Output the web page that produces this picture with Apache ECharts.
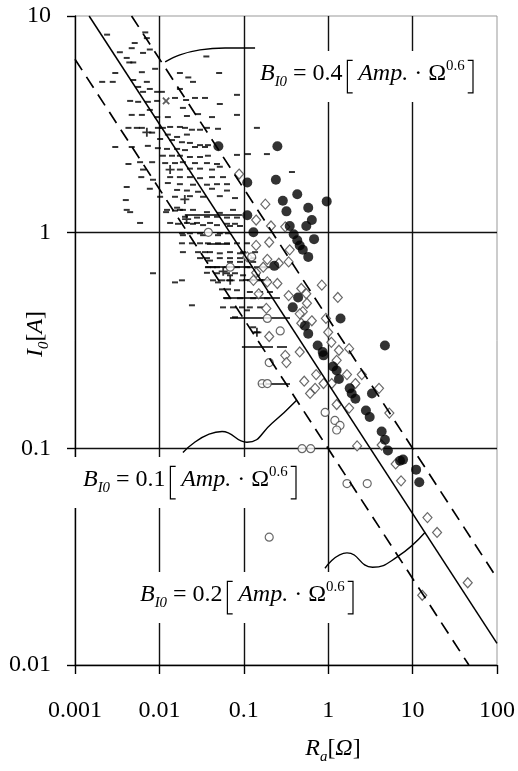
<!DOCTYPE html>
<html><head><meta charset="utf-8">
<script src="https://cdn.jsdelivr.net/npm/echarts@6/dist/echarts.min.js"></script>
<style>html,body{margin:0;padding:0;background:#fff}#c{width:518px;height:771px}</style>
</head><body><div id="c"></div>
<script>
// ---------- axes ----------
const xTickValues = [0.001, 0.01, 0.1, 1, 10, 100];
const xTickLabels = ['0.001', '0.01', '0.1', '1', '10', '100'];
const yTickValues = [0.01, 0.1, 1, 10];
const yTickLabels = ['0.01', '0.1', '1', '10'];

// ---------- reference lines I0 = B * Ra^-0.6 (end points) ----------
const lineB01 = [[0.001, 6.31], [46.4, 0.01]];
const lineB02 = [[0.00147, 10], [100, 0.0126]];
const lineB04 = [[0.00468, 10], [100, 0.0252]];

// ---------- data ----------
const filledCircles = [
 [0.05,2.5],[0.25,2.5],[0.11,1.7],[0.24,1.75],[0.29,1.4],[0.43,1.5],[0.96,1.39],[0.32,1.25],[0.58,1.3],
 [0.64,1.14],[0.11,1.2],[0.35,1.07],[0.55,1.07],[0.13,1.0],[0.39,0.98],[0.43,0.92],[0.68,0.93],[0.46,0.87],
 [0.50,0.83],[0.58,0.77],[0.23,0.70],[0.44,0.50],[0.38,0.45],[0.53,0.37],[0.58,0.34],[1.4,0.40],[4.7,0.30],
 [0.75,0.30],[0.86,0.28],[0.88,0.27],[1.14,0.24],[1.26,0.23],[1.34,0.21],[1.8,0.19],[1.9,0.18],[2.1,0.17],
 [3.3,0.18],[2.8,0.15],[3.1,0.14],[4.3,0.12],[4.7,0.11],[5.1,0.098],[7.1,0.088],[7.7,0.089],[11,0.080],[12,0.070]
];
const openDiamonds = [
 [0.088,1.86],[0.18,1.35],[0.14,1.14],[0.21,1.07],[0.31,1.06],[0.20,0.90],[0.35,0.83],[0.19,0.75],[0.34,0.73],
 [0.26,0.72],[0.14,0.65],[0.25,0.58],[0.48,0.55],[0.84,0.57],[0.34,0.51],[0.55,0.52],[1.3,0.50],[0.15,0.52],
 [0.56,0.47],[0.50,0.43],[0.64,0.39],[0.48,0.38],[0.94,0.40],[1.0,0.345],[1.09,0.31],[0.46,0.28],[1.34,0.285],
 [1.77,0.29],[0.31,0.27],[1.26,0.256],[0.32,0.25],[2.5,0.22],[1.67,0.22],[0.72,0.22],[0.52,0.205],[2.1,0.20],
 [4.0,0.19],[0.70,0.19],[0.61,0.18],[1.77,0.154],[5.3,0.146],[1.26,0.16],[2.2,0.103],[4.3,0.104],
 [6.3,0.085],[7.3,0.071],[15,0.048],[19.5,0.041],[45,0.024],[13,0.021],[0.46,0.42],[0.20,0.33],[0.88,0.2],
 [1.1,0.2],[0.13,0.60],[0.19,0.59],[0.185,0.445],[0.14,0.87],[0.11,0.77],[0.17,0.69]
];
const openCircles = [
 [0.038,1.0],[0.069,0.69],[0.19,0.40],[0.20,0.25],[0.165,0.2],[0.19,0.2],[0.27,0.35],[0.92,0.147],
 [0.49,0.1],[0.62,0.1],[1.67,0.069],[2.9,0.069],[0.20,0.039],[0.124,0.77],[1.2,0.135],[1.38,0.128],[1.26,0.122]
];
const smallDashes = [
 [0.0068,8.4],[0.0024,8.2],[0.0071,7.9],[0.0051,7.5],[0.0047,7.1],[0.0077,7.0],[0.0034,6.8],[0.0064,6.75],[0.036,6.5],
 [0.0041,6.4],[0.0044,6.1],[0.0049,6.1],[0.0089,5.7],[0.0062,5.5],[0.003,5.45],[0.0175,5.45],[0.051,5.45],[0.022,5.2],
 [0.0049,5.06],[0.0021,4.96],[0.0028,4.96],[0.0071,4.96],[0.025,4.96],[0.0056,4.7],[0.0077,4.6],[0.0175,4.6],
 [0.0064,4.46],[0.0094,4.46],[0.0107,4.46],[0.083,4.32],[0.0153,4.18],[0.0264,4.18],[0.0347,4.18],[0.0207,4.09],
 [0.0045,4.05],[0.0094,4.05],[0.0056,4.01],[0.0073,4.01],[0.052,3.92],[0.019,3.76],[0.0077,3.68],[0.0287,3.52],
 [0.0047,3.49],[0.0062,3.49],[0.083,3.49],[0.0212,3.45],[0.0094,3.41],[0.0126,3.41],[0.042,3.41],
 [0.0134,3.07],[0.0175,3.07],[0.0043,3.04],[0.0054,3.04],[0.0062,3.04],[0.0096,3.04],[0.011,3.04],[0.0201,3.04],
 [0.0366,3.04],[0.143,3.04],[0.0495,3.01],[0.0243,2.98],[0.0303,2.98],[0.0082,2.89],[0.0126,2.83],[0.0212,2.83],
 [0.0162,2.76],[0.0102,2.70],[0.0141,2.67],[0.0185,2.61],[0.023,2.59],[0.0303,2.53],[0.0376,2.53],[0.0073,2.51],
 [0.003,2.48],[0.0047,2.48],[0.0264,2.48],[0.0347,2.48],[0.0096,2.45],[0.0123,2.43],[0.0162,2.43],[0.0201,2.40],
 [0.112,2.30],[0.188,2.30],[0.083,2.28],[0.011,2.26],[0.0141,2.26],[0.0175,2.26],[0.0376,2.26],[0.023,2.23],
 [0.0303,2.23],[0.0059,2.11],[0.0082,2.11],[0.019,2.11],[0.0117,2.09],[0.0153,2.09],[0.0264,2.09],[0.0366,2.09],
 [0.0043,2.07],[0.0481,2.07],[0.052,2.01],[0.023,1.97],[0.0303,1.97],[0.0064,1.95],[0.0175,1.95],
 [0.042,1.95],[0.372,1.90],[0.0061,1.80],[0.0134,1.80],[0.0175,1.80],[0.023,1.80],[0.042,1.80],[0.0567,1.80],
 [0.0303,1.78],[0.0084,1.75],[0.0126,1.69],[0.0175,1.67],[0.0481,1.67],[0.0632,1.67],[0.025,1.66],[0.0366,1.66],
 [0.0041,1.62],[0.0077,1.59],[0.042,1.59],[0.0162,1.57],[0.0212,1.56],[0.0632,1.56],[0.0287,1.54],[0.023,1.47],
 [0.052,1.47],[0.0102,1.46],[0.0153,1.46],[0.0329,1.46],[0.0787,1.44],[0.004,1.41],
 [0.0162,1.30],[0.0041,1.27],[0.0123,1.27],[0.0175,1.27],[0.019,1.27],[0.025,1.27],[0.0745,1.27],[0.0153,1.26],
 [0.0045,1.24],[0.012,1.24],[0.0366,1.24],[0.052,1.23],[0.0201,1.18],[0.0366,1.18],[0.0481,1.18],[0.0279,1.17],
 [0.0632,1.17],[0.083,1.17],[0.0059,1.105],[0.0134,1.105],[0.0212,1.105],[0.0279,1.105],[0.0398,1.105],
 [0.0166,1.095],[0.025,1.095],[0.0632,1.095],[0.0787,1.095],[0.0329,1.08],[0.0481,1.08],[0.0686,1.07],[0.0901,1.07],
 [0.0185,0.99],[0.023,0.99],[0.0303,0.99],[0.052,0.99],[0.065,0.99],[0.019,0.97],[0.0329,0.97],[0.0495,0.97],
 [0.0185,0.89],[0.0243,0.89],[0.0303,0.89],[0.0376,0.89],[0.0495,0.89],[0.0632,0.89],[0.083,0.89],[0.109,0.89],
 [0.019,0.81],[0.0287,0.81],[0.0347,0.81],[0.0398,0.81],[0.0686,0.81],[0.098,0.81],[0.136,0.81],[0.052,0.80],
 [0.0901,0.80],[0.0303,0.76],[0.0366,0.76],[0.052,0.76],[0.0686,0.76],[0.0901,0.76],[0.129,0.76],[0.0398,0.74],
 [0.0686,0.73],[0.0901,0.73],[0.129,0.73],[0.0376,0.69],[0.0432,0.69],[0.0481,0.69],[0.0632,0.69],[0.083,0.69],
 [0.109,0.69],[0.118,0.69],[0.143,0.69],[0.169,0.69],[0.188,0.69],[0.0366,0.65],[0.0084,0.647],[0.0481,0.647],
 [0.0632,0.647],[0.0787,0.647],[0.0686,0.633],[0.098,0.633],[0.143,0.633],[0.0185,0.60],[0.0432,0.60],
 [0.0552,0.60],[0.0686,0.60],[0.0952,0.60],[0.118,0.60],[0.156,0.60],[0.193,0.60],[0.0153,0.587],[0.0495,0.587],
 [0.0552,0.545],[0.065,0.545],[0.083,0.54],[0.118,0.53],[0.156,0.53],[0.204,0.53],[0.0632,0.496],[0.0901,0.496],
 [0.129,0.496],[0.188,0.496],[0.0243,0.46],[0.0567,0.45],[0.0745,0.45],[0.0952,0.45],[0.118,0.45],[0.156,0.45],
 [0.109,0.436],[0.0787,0.405],[0.129,0.364],[0.143,0.345]
];
// horizontal bars: [x from, x to, y]
const hBars = [
 [0.0686,0.353,0.405],[0.0567,0.268,0.50],[0.098,0.204,0.606],[0.095,0.222,0.297],[0.247,0.325,0.297],
 [0.148,0.353,0.20],[0.02,0.095,1.21],[0.0366,0.0686,0.89],[0.035,0.118,0.69]
];
const plusMarks = [[0.0071,2.9],[0.0134,1.95],[0.02,1.42],[0.057,0.66],[0.069,0.60],[0.143,0.345],[0.021,1.15]];
const crossMarks = [[0.012,4.05]];

// annotation leader curves (data coordinates)
const leader04 = [[0.0117,6.13],[0.0175,6.61],[0.0303,6.97],[0.0599,7.11],[0.136,7.11]];
const leader01 = [[0.019,0.096],[0.0552,0.12],[0.109,0.107],[0.216,0.131],[0.42,0.167]];
const leader02 = [[0.916,0.028],[1.67,0.033],[3.35,0.0283],[6.5,0.0315],[14.0,0.041]];

// ---------- text helpers ----------
const SERIF = '"Liberation Serif","Times New Roman",serif';
const mctx = document.createElement('canvas').getContext('2d');
function fnt(size, it) { return (it ? 'italic ' : '') + size + 'px ' + SERIF; }
function tw(t, size, it) { mctx.font = fnt(size, it); return mctx.measureText(t).width; }

function layout(parts, F) {
  let x = 0; const items = [];
  for (const p of parts) {
    if (p.br) {
      x += (p.pre || 0) * F;
      items.push({ kind: 'br', x, ch: p.br });
      x += (p.post || 0) * F;
    } else {
      const size = F * (p.s || 1);
      items.push({ kind: 'text', x, t: p.t, size, it: !!p.it, dy: p.dy || 0 });
      x += tw(p.t, size, !!p.it) + (p.after || 0) * F;
    }
  }
  return { items, width: x };
}
function toEls(lay, F, x0, base, z) {
  const els = [];
  for (const it of lay.items) {
    if (it.kind === 'text') {
      els.push({ type: 'text', z, x: x0 + it.x, y: base + it.dy * F - 0.3375 * it.size,
        style: { text: it.t, font: fnt(it.size, it.it), fill: '#000', align: 'left', verticalAlign: 'middle' } });
    } else {
      const top = base - 0.9 * F, bot = base + 0.45 * F, s = 0.22 * F, bx = x0 + it.x;
      const pts = it.ch === '[' ? [[bx + s, top], [bx, top], [bx, bot], [bx + s, bot]]
                                : [[bx - s, top], [bx, top], [bx, bot], [bx - s, bot]];
      els.push({ type: 'polyline', z, shape: { points: pts }, style: { stroke: '#000', lineWidth: 1.2, fill: null } });
    }
  }
  return els;
}
function bLabel(val) {
  return [
    { t: 'B', it: 1 },
    { t: 'I0', it: 1, s: 0.62, dy: 0.22 },
    { t: ' = ' + val },
    { br: '[', pre: 0.2, post: 0.45 },
    { t: 'Amp.', it: 1 },
    { t: ' \u00b7 ' },
    { t: '\u03a9' },
    { t: '0.6', s: 0.62, dy: -0.45 },
    { br: ']', pre: 0.35 }
  ];
}

const chart = echarts.init(document.getElementById('c'), null, { renderer: 'canvas' });

function fmt(vals, labels) {
  return v => {
    const i = vals.findIndex(t => Math.abs(Math.log10(t) - Math.log10(v)) < 1e-6);
    return i >= 0 ? labels[i] : '';
  };
}

const plusPath = 'path://M4,0h2v4h4v2h-4v4h-2v-4h-4v-2h4z';

const option = {
  animation: false,
  backgroundColor: '#fff',
  grid: { left: 75, right: 21, top: 16, bottom: 106, show: true, borderColor: '#999', borderWidth: 1, backgroundColor: 'transparent' },
  xAxis: {
    type: 'log', logBase: 10, min: 0.001, max: 100, splitNumber: 5,
    axisLine: { show: true, onZero: false, lineStyle: { color: '#000', width: 1.4 } },
    axisTick: { show: true, inside: false, length: 9, lineStyle: { color: '#000', width: 1.4 } },
    minorTick: { show: false },
    splitLine: { show: true, showMinLine: false, showMaxLine: false, lineStyle: { color: '#111', width: 1.4 } },
    axisLabel: { margin: 34, fontFamily: SERIF, fontSize: 24, color: '#000', formatter: fmt(xTickValues, xTickLabels) }
  },
  yAxis: {
    type: 'log', logBase: 10, min: 0.01, max: 10, splitNumber: 3,
    axisLine: { show: true, onZero: false, lineStyle: { color: '#000', width: 1.4 } },
    axisTick: { show: true, inside: false, length: 8, lineStyle: { color: '#000', width: 1.4 } },
    minorTick: { show: false },
    splitLine: { show: true, showMinLine: false, showMaxLine: false, lineStyle: { color: '#111', width: 1.4 } },
    axisLabel: { margin: 24, fontFamily: SERIF, fontSize: 24, color: '#000', formatter: fmt(yTickValues, yTickLabels) }
  },
  series: [
    { type: 'scatter', data: smallDashes, symbol: 'rect', symbolSize: [6, 2], itemStyle: { color: '#000' }, z: 3, silent: true },
    { type: 'lines', coordinateSystem: 'cartesian2d', z: 3, silent: true,
      data: hBars.map(b => ({ coords: [[b[0], b[2]], [b[1], b[2]]] })),
      lineStyle: { color: '#000', width: 1.6, opacity: 1 } },
    { type: 'scatter', data: plusMarks, symbol: plusPath, symbolSize: 9, itemStyle: { color: '#000' }, z: 3, silent: true },
    { type: 'scatter', data: crossMarks, symbol: plusPath, symbolSize: 9, symbolRotate: 45, itemStyle: { color: '#333' }, z: 3, silent: true },
    { type: 'scatter', data: openDiamonds, symbol: 'diamond', symbolSize: [9, 10],
      itemStyle: { color: '#fff', borderColor: '#444', borderWidth: 1.2 }, z: 4, silent: true },
    { type: 'scatter', data: openCircles, symbol: 'circle', symbolSize: 8,
      itemStyle: { color: '#fff', borderColor: '#444', borderWidth: 1.2 }, z: 4, silent: true },
    { type: 'scatter', data: filledCircles, symbol: 'circle', symbolSize: 10, itemStyle: { color: '#000' }, z: 5, silent: true },
    { type: 'line', data: lineB01, symbol: 'none', z: 6, silent: true, lineStyle: { color: '#000', width: 1.7, type: [13, 8] } },
    { type: 'line', data: lineB02, symbol: 'none', z: 6, silent: true, lineStyle: { color: '#000', width: 1.5 } },
    { type: 'line', data: lineB04, symbol: 'none', z: 6, silent: true, lineStyle: { color: '#000', width: 1.7, type: [13, 8] } },
    { type: 'line', data: leader04, symbol: 'none', smooth: 0.4, z: 6, silent: true, lineStyle: { color: '#000', width: 1.4 } },
    { type: 'line', data: leader01, symbol: 'none', smooth: 0.5, z: 6, silent: true, lineStyle: { color: '#000', width: 1.4 } },
    { type: 'line', data: leader02, symbol: 'none', smooth: 0.5, z: 6, silent: true, lineStyle: { color: '#000', width: 1.4 } }
  ]
};
chart.setOption(option);

// ---------- annotation texts ----------
const F = 24;
const els = [];
function addBLabel(val, x0, base) {
  const lay = layout(bLabel(val), F);
  els.push({ type: 'rect', z: 50, shape: { x: x0 - 9, y: base - 31, width: lay.width + 18, height: 51 }, style: { fill: '#fff' } });
  els.push(...toEls(lay, F, x0, base, 51));
}
addBLabel('0.4', 260, 82);
addBLabel('0.1', 83, 488);
addBLabel('0.2', 140, 603);

// x axis name
{
  const lay = layout([{ t: 'R', it: 1 }, { t: 'a', it: 1, s: 0.62, dy: 0.22 }, { t: '[' }, { t: '\u03a9', it: 1 }, { t: ']' }], F);
  els.push(...toEls(lay, F, 333 - lay.width / 2, 757, 51));
}
// y axis name (rotated)
{
  const lay = layout([{ t: 'I', it: 1 }, { t: '0', it: 1, s: 0.62, dy: 0.22 }, { t: '[' }, { t: 'A', it: 1 }, { t: ']' }], F);
  els.push({ type: 'group', x: 44, y: 334, rotation: Math.PI / 2, z: 51,
    children: toEls(lay, F, -lay.width / 2, 0, 51) });
}
chart.setOption({ graphic: { elements: els } });
</script>
</body></html>
